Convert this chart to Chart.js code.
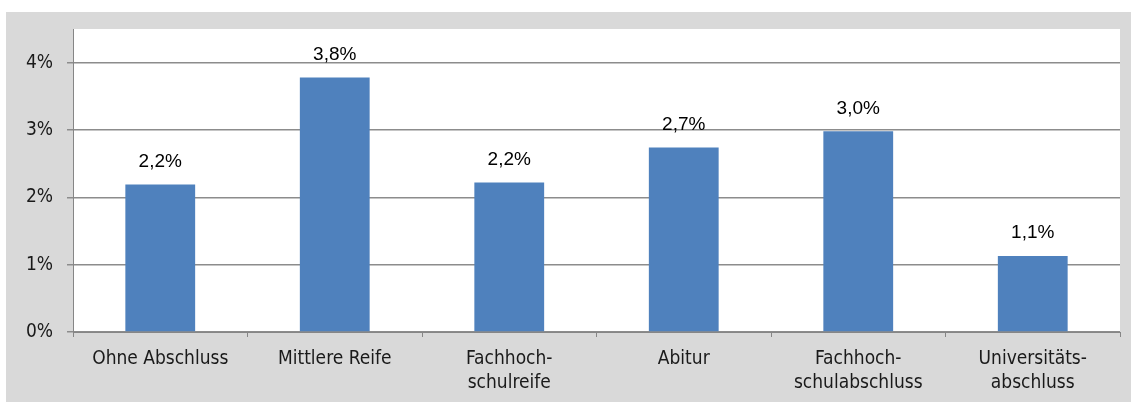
<!DOCTYPE html>
<html>
<head>
<meta charset="utf-8">
<script src="https://cdn.jsdelivr.net/npm/chart.js@4/dist/chart.umd.min.js"></script>
<style>
  html, body { margin: 0; padding: 0; background: #fff; }
  #box { position: absolute; left: 6px; top: 12px; width: 1125px; height: 390px; background: #d9d9d9; }
</style>
</head>
<body>
<div id="box"><canvas id="chart"></canvas></div>
<script>
const categories = [
  'Ohne Abschluss',
  'Mittlere Reife',
  ['Fachhoch-', 'schulreife'],
  'Abitur',
  ['Fachhoch-', 'schulabschluss'],
  ['Universitäts-', 'abschluss'],
];
const shares = [2.19, 3.78, 2.22, 2.74, 2.98, 1.13];
const yTicks = [0, 1, 2, 3, 4];

const fmt = (v) => v.toLocaleString('de-DE', { minimumFractionDigits: 1, maximumFractionDigits: 1 }) + '%';
const axisFont = { family: '"DejaVu Sans Condensed", "DejaVu Sans", sans-serif', size: 19, lineHeight: 1.28 };

// white plot area on gray background
const plotBg = {
  id: 'plotBg',
  beforeDraw(c) {
    const { ctx, chartArea: a } = c;
    ctx.save();
    ctx.fillStyle = '#ffffff';
    ctx.fillRect(a.left, a.top, a.right - a.left, a.bottom - a.top);
    ctx.restore();
  }
};

const barLabels = {
  id: 'barLabels',
  afterDatasetsDraw(c) {
    const { ctx } = c;
    const meta = c.getDatasetMeta(0);
    ctx.save();
    ctx.fillStyle = '#000';
    ctx.font = '19px "Liberation Sans", Arial, sans-serif';
    ctx.textAlign = 'center';
    ctx.textBaseline = 'middle';
    meta.data.forEach((bar, i) => {
      ctx.fillText(fmt(Number(shares[i].toFixed(1))), bar.x, bar.y - 23);
    });
    ctx.restore();
  }
};

new Chart(document.getElementById('chart'), {
  type: 'bar',
  data: {
    labels: categories,
    datasets: [{
      data: shares,
      backgroundColor: '#4f81bd',
      barPercentage: 0.4,
      categoryPercentage: 1,
    }]
  },
  options: {
    responsive: true,
    maintainAspectRatio: false,
    animation: false,
    layout: { padding: { left: 0, top: 17, right: 11, bottom: 0 } },
    plugins: { legend: { display: false }, tooltip: { enabled: false } },
    scales: {
      x: {
        grid: { drawOnChartArea: false, drawTicks: true, tickLength: 5, color: '#868686', offset: true },
        border: { color: '#868686', width: 1 },
        ticks: {
          color: '#1a1a1a',
          font: axisFont,
          padding: 10,
          maxRotation: 0,
          autoSkip: false,
        },
        afterFit(s) { s.height = 70; s.paddingLeft = 0; s.paddingRight = 0; },
      },
      y: {
        min: 0,
        max: 4.5,
        afterBuildTicks(s) { s.ticks = yTicks.map(v => ({ value: v })); },
        grid: { color: '#8c8c8c', lineWidth: 1.5, tickLength: 6 },
        border: { color: '#868686', width: 1 },
        ticks: {
          color: '#1a1a1a',
          font: axisFont,
          padding: 14,
          callback: (v) => v + '%',
        },
        afterFit(s) { s.width = 67; s.paddingTop = 0; s.paddingBottom = 0; },
      }
    }
  },
  plugins: [plotBg, barLabels]
});
</script>
</body>
</html>
